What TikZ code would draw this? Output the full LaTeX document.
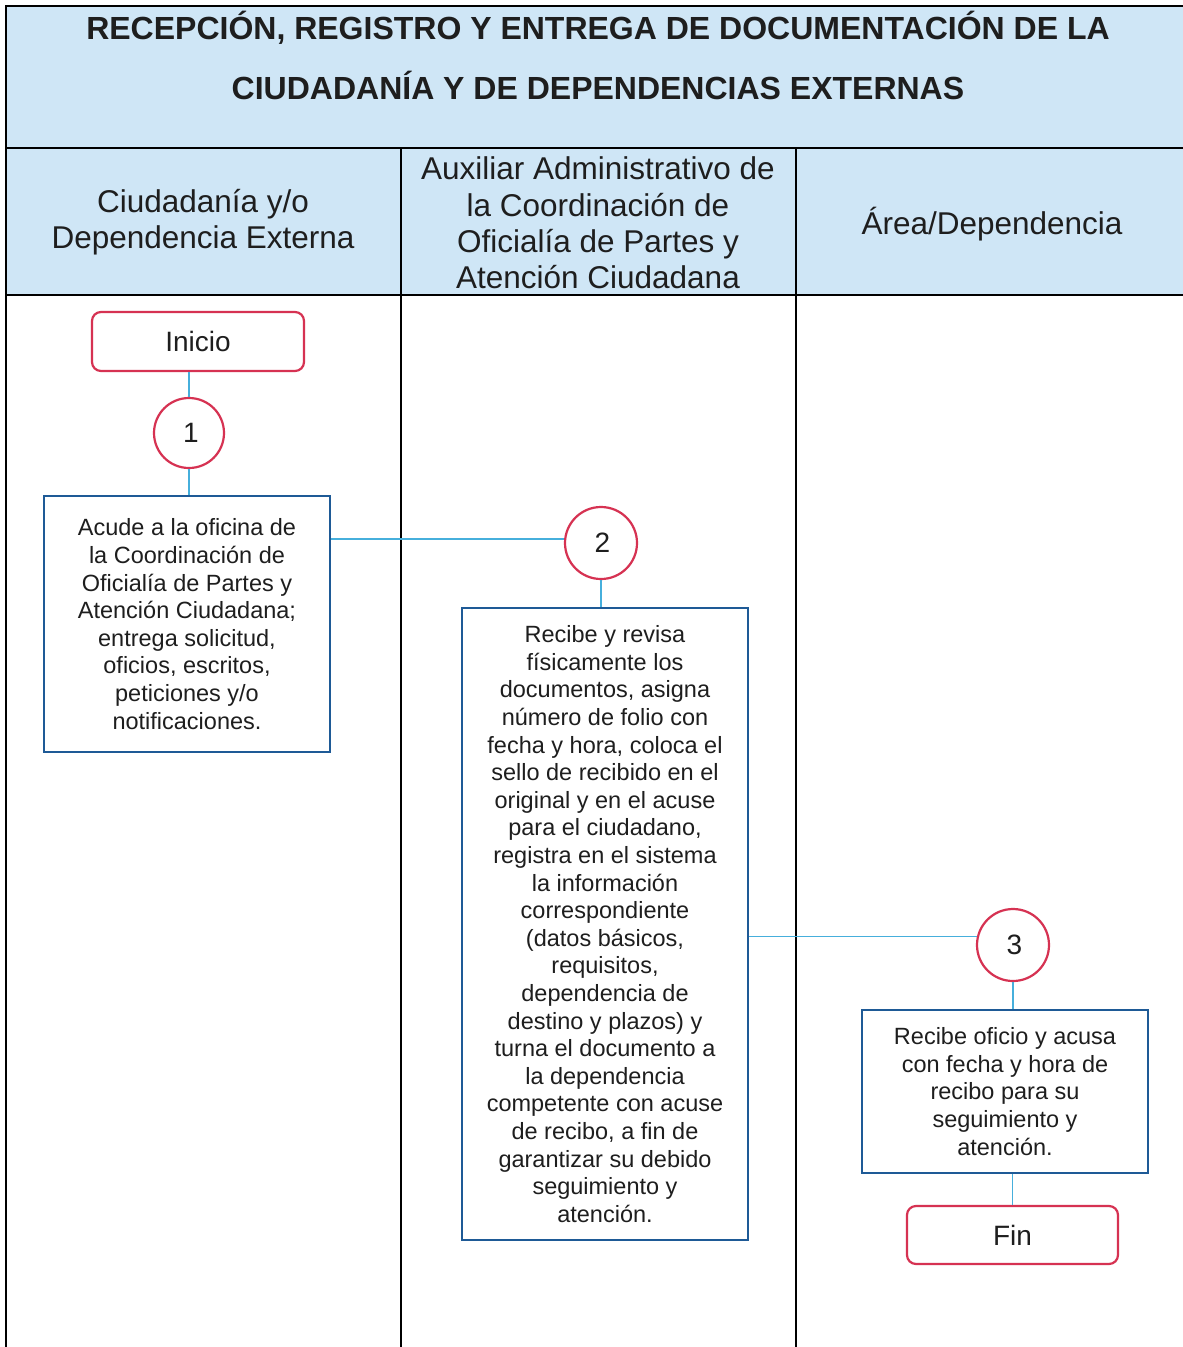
\documentclass[tikz,border=0pt]{standalone}
\usepackage{fontspec}
\setmainfont{Liberation Sans}
\definecolor{hdr}{RGB}{207,230,246}
\definecolor{redc}{RGB}{214,50,82}
\definecolor{conn}{RGB}{70,175,220}
\definecolor{boxb}{RGB}{30,90,150}
\definecolor{txt}{RGB}{30,30,30}
\begin{document}
\begin{tikzpicture}[x=1pt,y=-1pt,
  lane/.style={draw=black,line width=1.5pt},
  terminal/.style={draw=redc,line width=2.2pt,rounded corners=9pt,inner sep=0pt,text=txt,font=\fontsize{28}{32}\selectfont},
  conncircle/.style={circle,draw=redc,line width=2.2pt,minimum size=70pt,inner sep=0pt,text=txt,font=\fontsize{28}{32}\selectfont},
  procbox/.style={draw=boxb,line width=2.4pt,inner sep=0pt,align=center,text=txt,font=\fontsize{23.5}{27.6}\selectfont,minimum width=286pt},
  flow/.style={draw=conn,line width=1.4pt},
  lanehead/.style={align=center,text=txt,font=\fontsize{31.5}{36.3}\selectfont},
  titletext/.style={text=txt,font=\fontsize{32}{36}\selectfont\bfseries}]
\useasboundingbox (0,0) rectangle (1183,1347);
\fill[white] (0,0) rectangle (1183,1347);
% header fills
\fill[hdr] (6,6) rectangle (1183,295);
% lines
\draw[lane] (1183,6) -- (6,6) -- (6,1347);
\draw[lane] (6,148) -- (1183,148);
\draw[lane] (6,295) -- (1183,295);
\draw[lane] (401,148) -- (401,1347);
\draw[lane] (796,148) -- (796,1347);
% title
\node[titletext] (t1) at (598,28) {RECEPCIÓN, REGISTRO Y ENTREGA DE DOCUMENTACIÓN DE LA};
\node[titletext] (t2) at (598,85) {CIUDADANÍA Y DE DEPENDENCIAS EXTERNAS};
% lane headers
\node[lanehead] (h1) at (203,222.5) {Ciudadanía y/o\\Dependencia Externa};
\node[lanehead] (h2) at (598,223) {Auxiliar Administrativo de\\la Coordinación de\\Oficialía de Partes y\\Atención Ciudadana};
\node[lanehead] (h3) at (992,224) {Área/Dependencia};
% nodes
\node[terminal,minimum width=212pt,minimum height=59pt] (inicio) at (198,341.5) {Inicio};
\node[conncircle] (c1) at (189,433) {\raisebox{-3pt}{\hspace{4pt}1}};
\node[procbox,minimum height=256pt] (b1) at (187,624) {Acude a la oficina de\\la Coordinación de\\Oficialía de Partes y\\Atención Ciudadana;\\entrega solicitud,\\oficios, escritos,\\peticiones y/o\\notificaciones.};
\node[conncircle,minimum size=72pt] (c2) at (601,543) {\raisebox{-2pt}{\hspace{3pt}2}};
\node[procbox,minimum height=632pt] (b2) at (605,924) {Recibe y revisa\\físicamente los\\documentos, asigna\\número de folio con\\fecha y hora, coloca el\\sello de recibido en el\\original y en el acuse\\para el ciudadano,\\registra en el sistema\\la información\\correspondiente\\(datos básicos,\\requisitos,\\dependencia de\\destino y plazos) y\\turna el documento a\\la dependencia\\competente con acuse\\de recibo, a fin de\\garantizar su debido\\seguimiento y\\atención.};
\node[conncircle,minimum size=72pt] (c3) at (1013,945) {\raisebox{-2pt}{\hspace{3pt}3}};
\node[procbox,minimum height=163pt] (b3) at (1005,1091.5) {Recibe oficio y acusa\\con fecha y hora de\\recibo para su\\seguimiento y\\atención.};
\node[terminal,minimum width=211pt,minimum height=58pt] (fin) at (1012.5,1235) {Fin};
% connectors
\draw[flow] (c1.north) -- (c1.north |- inicio.south);
\draw[flow] (c1.south) -- (c1.south |- b1.north);
\draw[flow] (b1.east |- c2.174) -- (c2.174);
\draw[flow] (c2.south) -- (c2.south |- b2.north);
\draw[flow] (b2.east |- c3.167) -- (c3.167);
\draw[flow] (c3.south) -- (c3.south |- b3.north);
\draw[flow] (b3.south -| fin.north) -- (fin.north);
\end{tikzpicture}
\end{document}
